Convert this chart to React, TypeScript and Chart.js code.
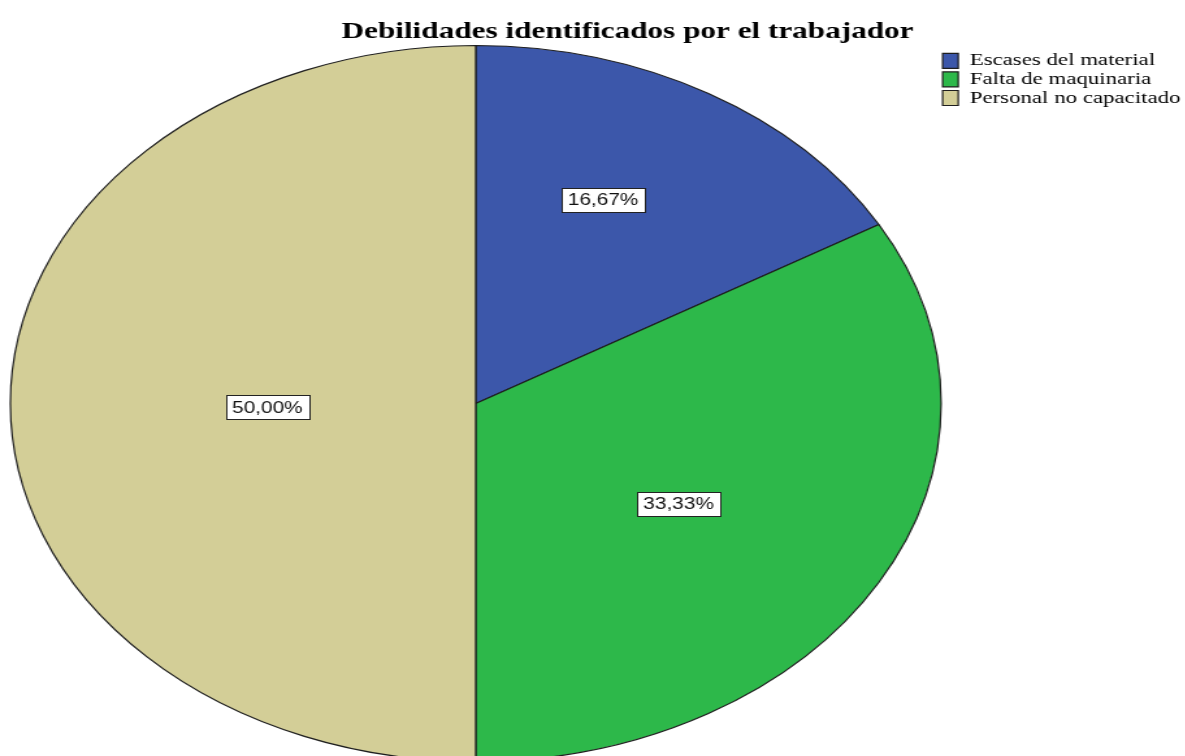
import React, { useEffect, useRef } from 'react';
import { Chart, registerables } from 'chart.js';

Chart.register(...registerables);

const TITLE = 'Debilidades identificados por el trabajador';
const CATEGORIES = ['Escases del material', 'Falta de maquinaria', 'Personal no capacitado'];
const PERCENTAGES = [16.67, 33.33, 50.0];
const COLORS = ['#3C57AA', '#2DB84A', '#D3CE97'];
const LABEL_RADIUS = [0.631, 0.518, 0.448];
const LABEL_ANGLE_SHIFT = [-4.3, 2.7, -1.4];

const CANVAS_W = 930;
const CANVAS_H = 756;
const STRETCH = 1.3;

const fmt = (v: number) => v.toFixed(2).replace('.', ',') + '%';

const titlePlugin = {
  id: 'customTitle',
  afterDraw(chart: any) {
    const ctx = chart.ctx;
    ctx.save();
    ctx.font = 'bold 24px "Liberation Serif"';
    ctx.fillStyle = '#000';
    ctx.textAlign = 'center';
    ctx.textBaseline = 'alphabetic';
    ctx.fillText(TITLE, 482.7, 38);
    ctx.restore();
  },
};

const labelPlugin = {
  id: 'sliceLabels',
  afterDatasetsDraw(chart: any) {
    const ctx = chart.ctx;
    const meta = chart.getDatasetMeta(0);
    ctx.save();
    ctx.font = '16px "Liberation Sans"';
    ctx.textAlign = 'center';
    ctx.textBaseline = 'middle';
    meta.data.forEach((arc: any, i: number) => {
      const { x, y, startAngle, endAngle, outerRadius } = arc.getProps(
        ['x', 'y', 'startAngle', 'endAngle', 'outerRadius'],
        true
      );
      const mid = (startAngle + endAngle) / 2 + (LABEL_ANGLE_SHIFT[i] * Math.PI) / 180;
      const r = outerRadius * LABEL_RADIUS[i];
      const px = x + Math.cos(mid) * r;
      const py = y + Math.sin(mid) * r;
      const text = fmt(PERCENTAGES[i]);
      const tw = ctx.measureText(text).width;
      const bw = Math.round(tw + 10);
      const bh = 24;
      const bx = Math.round(px - bw / 2) + 0.5;
      const by = Math.round(py - bh / 2) + 0.5;
      ctx.fillStyle = '#fff';
      ctx.fillRect(bx, by, bw, bh);
      ctx.strokeStyle = '#222';
      ctx.lineWidth = 1;
      ctx.strokeRect(bx, by, bw, bh);
      ctx.fillStyle = '#111';
      ctx.fillText(text, px, py + 1);
    });
    ctx.restore();
  },
};

export default function App() {
  const canvasRef = useRef<HTMLCanvasElement | null>(null);

  useEffect(() => {
    if (!canvasRef.current) return;
    const chart = new Chart(canvasRef.current, {
      type: 'pie',
      data: {
        labels: CATEGORIES,
        datasets: [
          {
            data: PERCENTAGES,
            backgroundColor: COLORS,
            borderColor: '#1e1e1e',
            borderWidth: 1.2,
            clip: false,
          } as any,
        ],
      },
      options: {
        animation: false,
        responsive: false,
        devicePixelRatio: 1,
        radius: 358,
        layout: {
          padding: { left: 7.8, right: 11.9, top: 51, bottom: -9 },
        },
        plugins: {
          title: { display: false },
          tooltip: { enabled: false },
          legend: {
            display: true,
            position: 'right',
            align: 'start',
            labels: {
              boxWidth: 12,
              boxHeight: 15,
              padding: 1,
              color: '#000',
              font: { family: 'Liberation Serif', size: 17.6 },
            },
          },
        },
      } as any,
      plugins: [titlePlugin, labelPlugin],
    });
    return () => chart.destroy();
  }, []);

  return (
    <div
      style={{
        position: 'absolute',
        left: 0,
        top: 0,
        width: 1185,
        height: 756,
        overflow: 'hidden',
        background: '#fff',
      }}
    >
      <canvas
        ref={canvasRef}
        width={CANVAS_W}
        height={CANVAS_H}
        style={{ display: 'block', width: `${CANVAS_W * STRETCH}px`, height: `${CANVAS_H}px` }}
      />
    </div>
  );
}
